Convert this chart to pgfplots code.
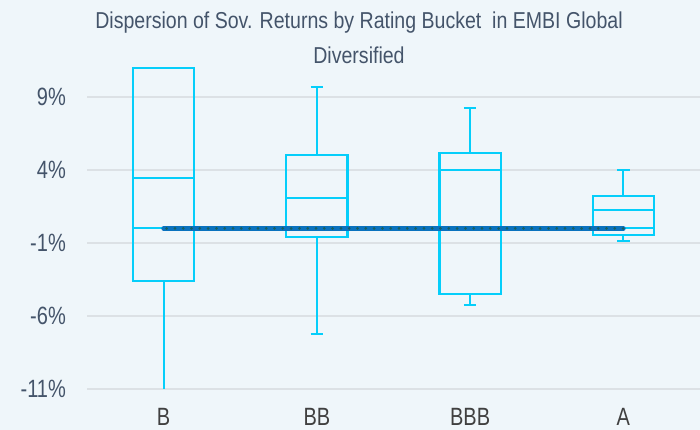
\documentclass[border=0pt]{standalone}
\usepackage{fontspec}
\setmainfont{Liberation Sans}[FakeStretch=0.8]
\newfontfamily\titlefont{Liberation Sans}[FakeStretch=0.85]
\usepackage{pgfplots}
\pgfplotsset{compat=1.18}
\usepgfplotslibrary{statistics}

\definecolor{bgcol}{HTML}{EFF6FA}
\definecolor{gridcol}{HTML}{DCE1E5}
\definecolor{boxcol}{HTML}{05CEFA}
\definecolor{linecol}{HTML}{0A72BE}
\definecolor{dotcol}{HTML}{176060}
\definecolor{titlecol}{HTML}{44546A}
\definecolor{labcol}{HTML}{404040}

\begin{document}
\begin{tikzpicture}[x=1pt,y=1pt]
\fill[bgcol] (0,0) rectangle (700,430);
\path[use as bounding box] (0,0) rectangle (700,430);

\begin{axis}[
    at={(87pt,41pt)}, anchor=south west,
    scale only axis,
    width=613pt, height=328.5pt,
    xmin=-0.5, xmax=3.5,
    ymin=-11, ymax=11.5,
    axis line style={draw=none},
    major tick length=0pt,
    ytick={-11,-6,-1,4,9},
    yticklabels={-11\%,-6\%,-1\%,4\%,9\%},
    xtick={0,1,2,3},
    xticklabels={B,BB,BBB,A},
    ymajorgrids,
    grid style={gridcol, line width=1.8pt},
    yticklabel style={inner sep=0pt, anchor=east, xshift=-21pt,
        font=\fontsize{25}{25}\selectfont, text=titlecol},
    xticklabel style={inner sep=0pt, anchor=north, yshift=-19pt,
        font=\fontsize{25}{25}\selectfont, text=labcol},
    boxplot/draw direction=y,
    boxplot/box extend=0.4,
    boxplot/whisker extend=0.08,
    boxplot/draw/average/.code={%
        \draw[/pgfplots/boxplot/every median/.try]
            (boxplot box cs:\pgfplotsboxplotvalue{average},0)
            --
            (boxplot box cs:\pgfplotsboxplotvalue{average},1);
    },
]

% B
\addplot[boxcol, line width=2.2pt, boxplot prepared={
    draw position=0,
    lower whisker=-11.5, lower quartile=-3.58,
    median=3.47, average=0,
    upper quartile=11.0, upper whisker=11.0}] coordinates {};
% BB
\addplot[boxcol, line width=2.2pt, boxplot prepared={
    draw position=1,
    lower whisker=-7.23, lower quartile=-0.61,
    median=2.1, average=0,
    upper quartile=5.03, upper whisker=9.66}] coordinates {};
% BBB
\addplot[boxcol, line width=2.2pt, boxplot prepared={
    draw position=2,
    lower whisker=-5.27, lower quartile=-4.47,
    median=4.0, average=0,
    upper quartile=5.16, upper whisker=8.27}] coordinates {};
% A
\addplot[boxcol, line width=2.2pt, boxplot prepared={
    draw position=3,
    lower whisker=-0.88, lower quartile=-0.47,
    median=1.26, average=0,
    upper quartile=2.22, upper whisker=4.02}] coordinates {};

% flat reference line with dots
\addplot[linecol, line width=4.6pt, line cap=round] coordinates {(0,0) (3,0)};
\addplot[dotcol, line width=3pt, line cap=round,
    dash pattern=on 0pt off 8.3pt, dash phase=-3pt] coordinates {(0,0) (3,0)};
\end{axis}

\node[anchor=north, align=center, inner sep=0pt, text=titlecol,
    font=\titlefont\fontsize{23}{35}\selectfont] at (359,418)
    {Dispersion of Sov. Returns by Rating Bucket\ \ in EMBI Global\\Diversified};
\end{tikzpicture}
\end{document}
